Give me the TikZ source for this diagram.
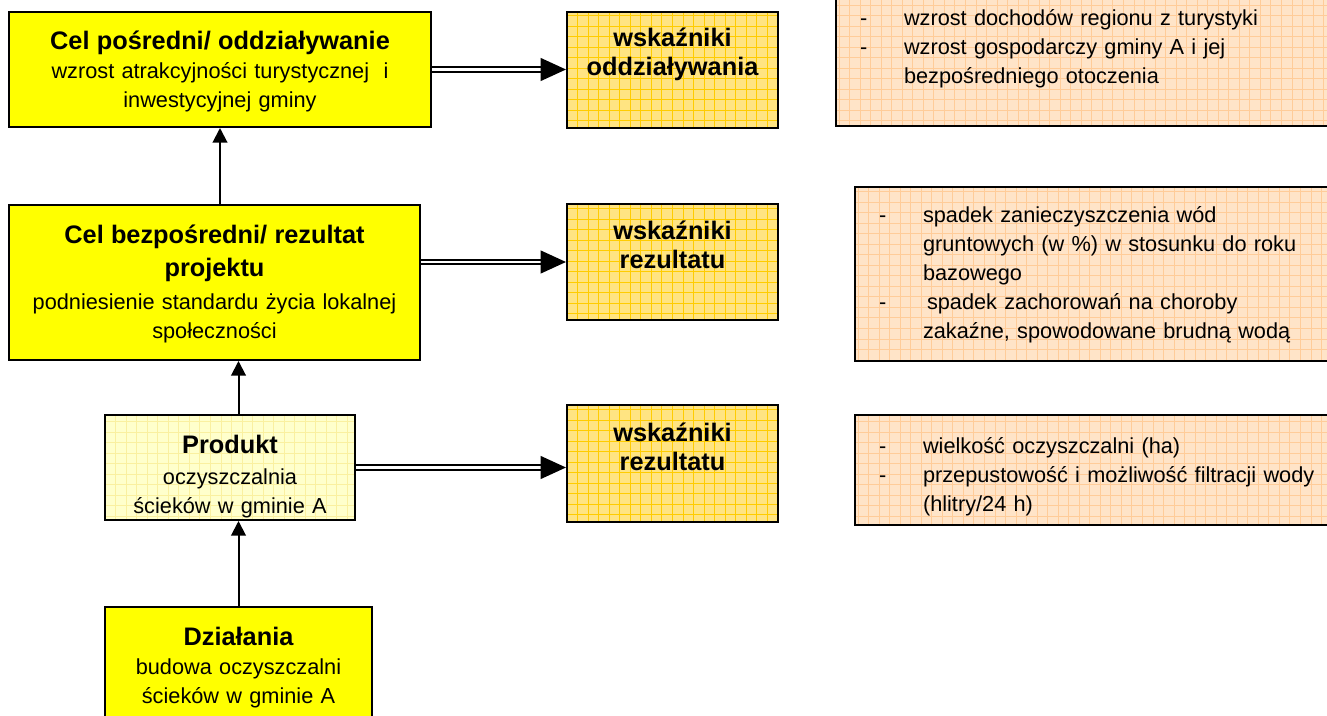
\documentclass[tikz,border=0pt]{standalone}
\usepackage{fontspec}
\setmainfont{Liberation Sans}
\usetikzlibrary{arrows.meta}

\definecolor{celyellow}{RGB}{255,255,0}
\definecolor{prodfill}{RGB}{255,255,204}
\definecolor{prodgrid}{RGB}{250,240,160}
\definecolor{wskfill}{RGB}{255,228,130}
\definecolor{wskgrid}{RGB}{255,204,0}
\definecolor{opisfill}{RGB}{255,228,200}
\definecolor{opisgrid}{RGB}{255,204,153}

\newcommand{\kres}{\makebox[33pt][l]{-}}
\newcommand{\wciecie}{\hspace*{33pt}}
\newcommand{\nagl}[1]{{\fontsize{19}{21.75}\selectfont\bfseries #1}}

\tikzset{
  ramka/.style={draw, line width=1.5pt, inner sep=0pt, align=center,
    font=\fontsize{16.3}{21.75}\selectfont},
  kratka/.style={path picture={\draw[#1, line width=0.5pt, step=7.9pt]
      (path picture bounding box.south west) grid (path picture bounding box.north east);}},
  cel/.style={ramka, fill=celyellow},
  produkt/.style={ramka, fill=prodfill, kratka=prodgrid},
  wsk/.style={ramka, fill=wskfill, kratka=wskgrid},
  opis/.style={ramka, fill=opisfill, kratka=opisgrid, align=left, inner xsep=18pt},
  podwojna/.style={double=white, double distance=1.8pt, line width=1.6pt,
    -{Triangle[length=19pt,width=17pt]}},
  pojedyncza/.style={line width=1.5pt, -{Triangle[length=11pt,width=11pt]}}
}

\begin{document}
\begin{tikzpicture}[x=0.75pt, y=-0.75pt]
\useasboundingbox (0,0) rectangle (1327,716);
\clip (0,0) rectangle (1327,716);

% lewa kolumna: cele, produkt, dzialania
\node[cel, anchor=base, text width=316.5pt, text height=28.5pt, text depth=57.75pt]
  (posredni) at (220,50)
  {\nagl{Cel pośredni/ oddziaływanie}\\ wzrost atrakcyjności turystycznej\ \ i\\ inwestycyjnej gminy};
\node[cel, anchor=base, text width=308.25pt, text height=29.25pt, text depth=87pt]
  (bezposredni) at (214.5,244)
  {\nagl{Cel bezpośredni/ rezultat}\\[3pt] \nagl{projektu}\\[3pt] podniesienie standardu życia lokalnej\\ społeczności};
\node[produkt, anchor=base, text width=187.5pt, text height=28.5pt, text depth=50.25pt]
  (produkt) at (230,453)
  {\nagl{Produkt}\\[2pt] oczyszczalnia\\ ścieków w gminie A};
\node[cel, anchor=base, text width=200.25pt, text height=28.5pt, text depth=63.75pt]
  (dzialania) at (238.5,645)
  {\nagl{Działania}\\ budowa oczyszczalni\\ ścieków w gminie A};

% wskazniki
\node[wsk, anchor=base, text width=158.25pt, text height=26.25pt, text depth=60.75pt]
  (wsk1) at (672.5,47) {\nagl{wskaźniki}\\ \nagl{oddziaływania}};
\node[wsk, anchor=base, text width=158.25pt, text height=27pt, text depth=60pt]
  (wsk2) at (672.5,240) {\nagl{wskaźniki}\\ \nagl{rezultatu}};
\node[wsk, anchor=base, text width=158.25pt, text height=27pt, text depth=60.75pt]
  (wsk3) at (672.5,441) {\nagl{wskaźniki}\\ \nagl{rezultatu}};

% opisy wskaznikow
\node[opis, anchor=base west, text width=346.5pt, text height=42pt, text depth=75pt]
  (opis1) at (835,26)
  {\kres wzrost dochodów regionu z turystyki\\
   \kres wzrost gospodarczy gminy A i jej\\
   \wciecie bezpośredniego otoczenia};
\node[opis, anchor=base west, text width=336pt, text height=27pt, text depth=103.5pt]
  (opis2) at (854,223)
  {\kres spadek zanieczyszczenia wód\\
   \wciecie gruntowych (w \%) w stosunku do roku\\
   \wciecie bazowego\\
   \kres\hspace{3pt}spadek zachorowań na choroby\\
   \wciecie zakaźne, spowodowane brudną wodą};
\node[opis, anchor=base west, text width=336pt, text height=28.5pt, text depth=54pt]
  (opis3) at (854,453)
  {\kres wielkość oczyszczalni (ha)\\
   \kres przepustowość i możliwość filtracji wody\\
   \wciecie (hlitry/24 h)};

% strzalki
\draw[pojedyncza] (bezposredni.north -| posredni.south) -- (posredni.south);
\draw[pojedyncza] (produkt.north -| dzialania.north) -- (dzialania.north |- bezposredni.south);
\draw[pojedyncza] (dzialania.north) -- (dzialania.north |- produkt.south);

\draw[podwojna] (posredni.east) -- (posredni.east -| wsk1.west);
\draw[podwojna] (bezposredni.east |- wsk2.west) -- (wsk2.west);
\draw[podwojna] (produkt.east) -- (produkt.east -| wsk3.west);
\end{tikzpicture}
\end{document}
